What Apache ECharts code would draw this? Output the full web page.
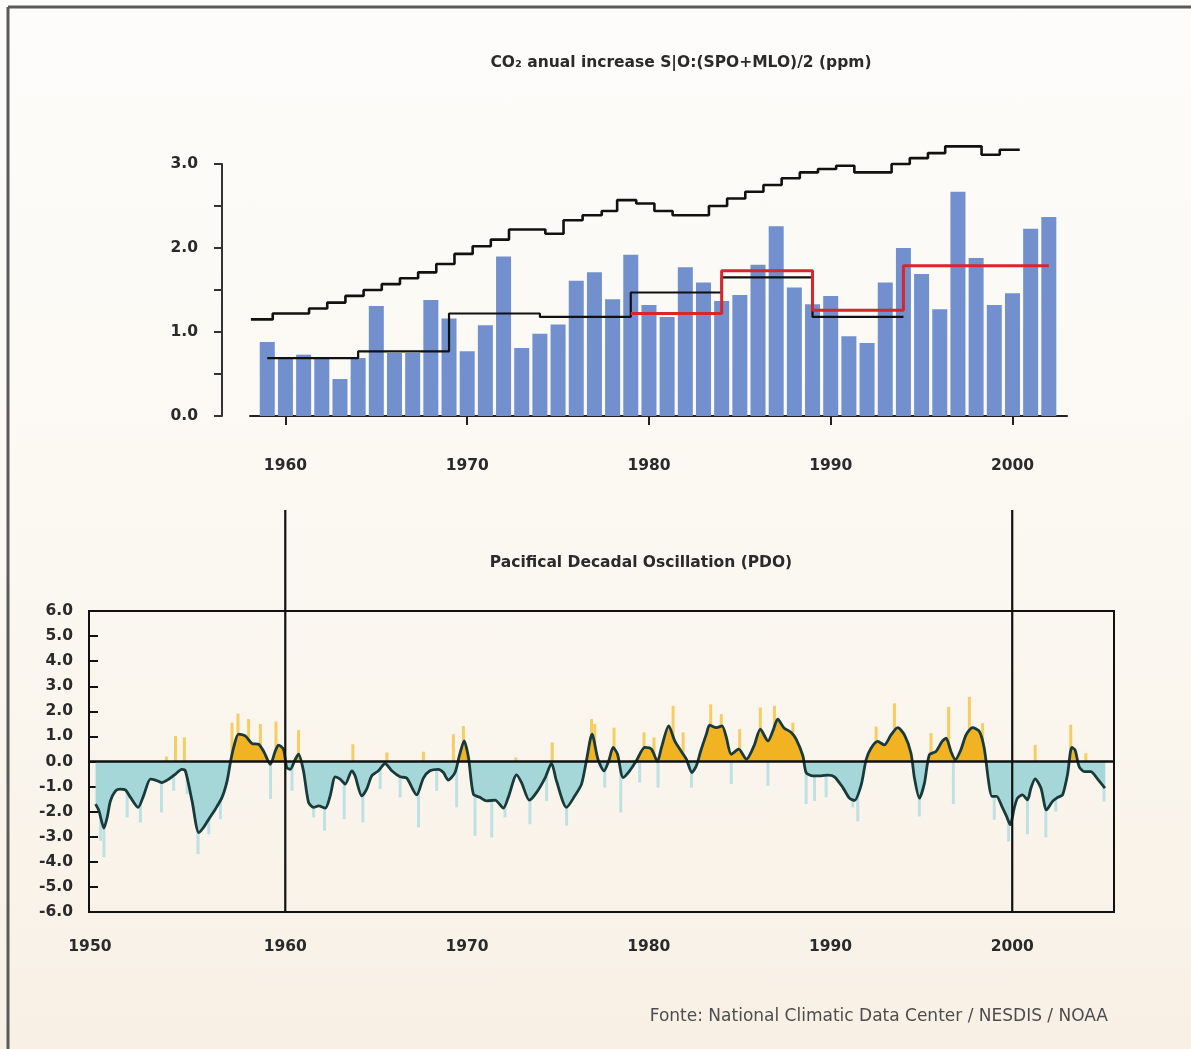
<!DOCTYPE html>
<html>
<head>
<meta charset="utf-8">
<script src="https://cdn.jsdelivr.net/npm/echarts@6/dist/echarts.min.js"></script>
<style>
  html, body { margin: 0; padding: 0; background: #ffffff; }
  #chart { width: 1191px; height: 1049px; background: linear-gradient(#fdfcfa 0%, #fbf8f1 55%, #f8f0e5 100%); }
</style>
</head>
<body>
<div id="chart"></div>
<script>
// CO2 annual increase (bars)
const co2Years = [1959, 1960, 1961, 1962, 1963, 1964, 1965, 1966, 1967, 1968, 1969, 1970, 1971, 1972, 1973,
  1974, 1975, 1976, 1977, 1978, 1979, 1980, 1981, 1982, 1983, 1984, 1985, 1986, 1987, 1988, 1989, 1990,
  1991, 1992, 1993, 1994, 1995, 1996, 1997, 1998, 1999, 2000, 2001, 2002];
const co2Values = [0.88, 0.70, 0.73, 0.69, 0.44, 0.69, 1.31, 0.75, 0.75, 1.38, 1.16, 0.77, 1.08, 1.90, 0.81,
  0.98, 1.09, 1.61, 1.71, 1.39, 1.92, 1.32, 1.18, 1.77, 1.59, 1.37, 1.44, 1.80, 2.26, 1.53, 1.33, 1.43,
  0.95, 0.87, 1.59, 2.00, 1.69, 1.27, 2.67, 1.88, 1.32, 1.46, 2.23, 2.37];

// upper black step line (value holds from each year to the next one)
const upperStepYears = [1958.1, 1959.3, 1961.3, 1962.3, 1963.3, 1964.3, 1965.3, 1966.3, 1967.3, 1968.3, 1969.3,
  1970.3, 1971.3, 1972.3, 1974.3, 1975.3, 1976.35, 1977.4, 1978.25, 1979.3, 1980.3, 1981.3, 1983.3, 1984.3,
  1985.3, 1986.3, 1987.3, 1988.3, 1989.3, 1990.3, 1991.3, 1993.35, 1994.35, 1995.35, 1996.3, 1998.3, 1999.3, 2000.4];
const upperStepValues = [1.15, 1.22, 1.28, 1.35, 1.43, 1.50, 1.57, 1.64, 1.71, 1.81, 1.93, 2.02, 2.10, 2.22,
  2.17, 2.33, 2.39, 2.44, 2.57, 2.53, 2.44, 2.39, 2.50, 2.59, 2.67, 2.75, 2.83, 2.90, 2.94, 2.98, 2.90, 3.00,
  3.07, 3.13, 3.21, 3.11, 3.17, 3.17];

// 5-year means
const lowerStepYears = [1959, 1964, 1969, 1974, 1979, 1984, 1989, 1994];
const lowerStepValues = [0.69, 0.77, 1.22, 1.18, 1.47, 1.65, 1.18, 1.18];
const redStepYears = [1979, 1984, 1989, 1994, 2002];
const redStepValues = [1.22, 1.73, 1.26, 1.79, 1.79];

const co2TickYears = [1960, 1970, 1980, 1990, 2000];

// PDO smoothed curve
const pdoYears = [1949.56, 1949.75, 1950.02, 1950.2, 1950.38, 1950.66, 1950.93, 1951.2, 1951.48, 1951.9, 1952.2,
  1952.58, 1952.86, 1953.2, 1953.6, 1953.96, 1954.3, 1954.5, 1954.87, 1955.24, 1955.5, 1955.79, 1956.15, 1956.52,
  1956.8, 1956.98, 1957.16, 1957.43, 1957.8, 1958.17, 1958.53, 1958.8, 1959.18, 1959.45, 1959.63, 1959.9, 1960.08,
  1960.27, 1960.55, 1960.73, 1961.0, 1961.28, 1961.56, 1961.83, 1962.2, 1962.47, 1962.75, 1963.02, 1963.3, 1963.66,
  1963.84, 1964.21, 1964.48, 1964.76, 1965.13, 1965.49, 1965.86, 1966.32, 1966.68, 1967.23, 1967.6, 1967.96, 1968.42,
  1968.7, 1968.97, 1969.34, 1969.58, 1969.84, 1970.08, 1970.35, 1970.71, 1971.08, 1971.54, 1972.0, 1972.27, 1972.73,
  1973.0, 1973.43, 1973.83, 1974.29, 1974.65, 1974.92, 1975.48, 1975.93, 1976.3, 1976.57, 1976.88, 1977.21, 1977.54,
  1977.8, 1978.04, 1978.28, 1978.59, 1978.95, 1979.32, 1979.78, 1980.15, 1980.48, 1980.7, 1981.1, 1981.43, 1981.83,
  1982.07, 1982.38, 1982.62, 1982.86, 1983.17, 1983.35, 1983.72, 1984.03, 1984.27, 1984.54, 1984.95, 1985.37, 1985.79,
  1986.14, 1986.56, 1986.83, 1987.1, 1987.43, 1987.84, 1988.11, 1988.48, 1988.66, 1989.03, 1989.48, 1989.85, 1990.22,
  1990.68, 1991.04, 1991.32, 1991.69, 1991.96, 1992.23, 1992.6, 1992.96, 1993.33, 1993.7, 1994.07, 1994.43, 1994.62,
  1994.89, 1995.17, 1995.44, 1995.8, 1996.14, 1996.36, 1996.63, 1996.87, 1997.17, 1997.46, 1997.82, 1998.19, 1998.46,
  1998.7, 1998.88, 1999.14, 1999.43, 1999.69, 1999.89, 2000.11, 2000.29, 2000.56, 2000.84, 2001.03, 2001.26, 2001.58,
  2001.89, 2002.22, 2002.5, 2002.77, 2003.04, 2003.28, 2003.46, 2003.68, 2003.96, 2004.32, 2004.69, 2005.1];
const pdoSmooth = [-1.70, -1.97, -2.66, -2.23, -1.57, -1.17, -1.10, -1.13, -1.43, -1.83, -1.37,
  -0.70, -0.74, -0.84, -0.70, -0.50, -0.31, -0.37, -1.57, -2.83, -2.63, -2.30, -1.90, -1.43,
  -0.77, -0.04, 0.56, 1.09, 1.02, 0.72, 0.69, 0.42, -0.11, 0.42, 0.65, 0.49, -0.24,
  -0.31, 0.09, 0.29, -0.37, -1.63, -1.83, -1.77, -1.86, -1.37, -0.61, -0.70, -0.90, -0.37,
  -0.57, -1.37, -1.10, -0.57, -0.37, -0.08, -0.37, -0.61, -0.66, -1.33, -0.66, -0.37, -0.31,
  -0.44, -0.74, -0.44, 0.23, 0.82, 0.16, -1.30, -1.43, -1.57, -1.54, -1.86, -1.43, -0.53,
  -0.84, -1.54, -1.23, -0.66, -0.08, -0.77, -1.83, -1.37, -0.90, 0.03, 1.09, 0.08, -0.37,
  0.03, 0.56, 0.29, -0.64, -0.37, 0.03, 0.56, 0.49, 0.00, 0.56, 1.42, 0.82, 0.36,
  0.09, -0.44, -0.17, 0.42, 1.09, 1.45, 1.35, 1.42, 0.96, 0.29, 0.49, 0.09, 0.62,
  1.29, 0.82, 1.22, 1.69, 1.35, 1.16, 0.89, 0.23, -0.44, -0.57, -0.57, -0.54, -0.61,
  -1.04, -1.46, -1.55, -0.93, 0.07, 0.53, 0.80, 0.66, 1.06, 1.35, 1.06, 0.33, -0.66,
  -1.46, -0.86, 0.27, 0.40, 0.80, 0.93, 0.40, 0.07, 0.46, 1.06, 1.35, 1.20, 0.53,
  -0.80, -1.39, -1.39, -1.79, -2.19, -2.52, -1.86, -1.46, -1.33, -1.53, -1.06, -0.69, -1.06,
  -1.93, -1.59, -1.43, -1.33, -0.53, 0.56, 0.46, -0.20, -0.40, -0.40, -0.69, -1.06];

// PDO monthly values that stick out of the smoothed area
const spikeYears = [1953.46, 1953.96, 1954.45, 1957.07, 1957.4, 1957.98, 1958.63, 1959.49, 1960.73,
  1949.84, 1950.02, 1951.3, 1952.03, 1953.19, 1953.86, 1954.6, 1955.2, 1955.79, 1956.43, 1959.19, 1960.37, 1961.56, 1962.16,
  1963.72, 1965.59, 1967.6, 1969.25, 1969.8, 1972.69, 1974.69, 1976.85,
  1963.24, 1964.27, 1965.22, 1966.32, 1967.33, 1968.33, 1969.43, 1970.44, 1971.36, 1972.09, 1973.46, 1974.38, 1975.48,
  1977.03, 1978.09, 1979.74, 1980.29, 1981.34, 1981.89, 1983.41, 1983.99, 1985.0, 1986.14, 1986.92, 1987.93,
  1977.58, 1978.46, 1979.5, 1980.51, 1982.35, 1984.54, 1986.56, 1988.66, 1989.12, 1989.76, 1991.23,
  1992.51, 1993.52, 1995.53, 1996.5, 1997.64, 1998.37, 2001.26, 2003.22, 2004.05,
  1991.5, 1994.89, 1996.76, 1999.01, 1999.8, 2000.84, 2001.85, 2002.4, 2005.05];
const spikeValues = [0.20, 1.02, 0.96, 1.55, 1.91, 1.69, 1.49, 1.59, 1.25,
  -3.16, -3.82, -2.23, -2.43, -2.03, -1.17, -1.30, -3.69, -2.90, -2.30, -1.50, -1.17, -2.23, -2.76,
  0.69, 0.36, 0.39, 1.09, 1.42, 0.16, 0.76, 1.69,
  -2.30, -2.43, -1.10, -1.43, -2.63, -1.17, -1.83, -2.96, -3.03, -2.23, -2.50, -1.57, -2.56,
  1.50, 1.35, 1.16, 0.96, 2.22, 1.16, 2.28, 1.89, 1.29, 2.15, 2.22, 1.55,
  -1.04, -2.03, -0.84, -1.04, -1.04, -0.90, -0.97, -1.70, -1.57, -1.43, -1.83,
  1.39, 2.32, 1.13, 2.18, 2.58, 1.53, 0.66, 1.46, 0.33,
  -2.39, -2.19, -1.70, -2.32, -3.19, -2.90, -3.03, -1.99, -1.60];

const pdoLabelYears = [1950, 1960, 1970, 1980, 1990, 2000];
const markerYears = [1960, 2000];

const pdoMin = 1949.2, pdoMax = 2005.6;
const font = 'DejaVu Sans';
const textDark = '#2a2a2a';
const warm = '#f1b321', cool = '#a6d7d8';

const pairs = (xs, ys) => xs.map((x, i) => [x, ys[i]]);
const axisText = { fontFamily: font, fontSize: 15.5, fontWeight: 'bold', color: textDark };

const chart = echarts.init(document.getElementById('chart'), null, { renderer: 'canvas' });

const markerSeries = markerYears.map(y => ({
  type: 'line',
  xAxisIndex: 2,
  yAxisIndex: 2,
  data: [[y, 0], [y, 1]],
  showSymbol: false,
  silent: true,
  z: 10,
  lineStyle: { color: '#111', width: 2.2 }
}));

chart.setOption({
  backgroundColor: 'transparent',
  animation: false,
  textStyle: { fontFamily: font },
  title: [
    {
      text: 'CO₂ anual increase S|O:(SPO+MLO)/2 (ppm)',
      left: 676, top: 50, textAlign: 'center',
      textStyle: { fontFamily: font, fontSize: 15.5, fontWeight: 'bold', color: textDark }
    },
    {
      text: 'Pacifical Decadal Oscillation (PDO)',
      left: 636, top: 550, textAlign: 'center',
      textStyle: { fontFamily: font, fontSize: 15.5, fontWeight: 'bold', color: textDark }
    },
    {
      text: 'Fonte: National Climatic Data Center / NESDIS / NOAA',
      right: 78, top: 1003,
      textStyle: { fontFamily: font, fontSize: 17, fontWeight: 'normal', color: '#4d4d4d' }
    }
  ],
  graphic: [
    { type: 'line', shape: { x1: 8, y1: 7, x2: 1191, y2: 7 }, style: { stroke: '#5a5a5a', lineWidth: 3 } },
    { type: 'line', shape: { x1: 8, y1: 7, x2: 8, y2: 1049 }, style: { stroke: '#5a5a5a', lineWidth: 3 } }
  ],
  grid: [
    { left: 250, right: 124, top: 164, bottom: 633 },
    { left: 89, right: 77, top: 611, bottom: 137, show: true, borderColor: '#111', borderWidth: 2, backgroundColor: 'transparent' },
    { left: 89, right: 77, top: 510, bottom: 137 }
  ],
  xAxis: [
    {
      gridIndex: 0, type: 'value', min: 1958.05, max: 2003,
      axisLine: { show: true, lineStyle: { color: '#222', width: 2 } },
      axisTick: { show: true, customValues: co2TickYears, length: 9, lineStyle: { color: '#222', width: 2 } },
      axisLabel: Object.assign({ customValues: co2TickYears, formatter: v => String(v), margin: 42 }, axisText),
      splitLine: { show: false }
    },
    {
      gridIndex: 1, type: 'value', min: pdoMin, max: pdoMax,
      axisLine: { show: false },
      axisTick: { show: false },
      axisLabel: Object.assign({
        // the first label sits on the left edge of the box, as in the original
        customValues: pdoLabelYears.map((y, i) => (i === 0 ? pdoMin + 0.05 : y)),
        formatter: v => String(Math.round(v / 10) * 10),
        margin: 27
      }, axisText),
      splitLine: { show: false }
    },
    { gridIndex: 2, type: 'value', min: pdoMin, max: pdoMax, show: false }
  ],
  yAxis: [
    {
      gridIndex: 0, type: 'value', min: 0, max: 3, interval: 0.5, offset: 28,
      axisLine: { show: true, lineStyle: { color: '#333', width: 2 } },
      axisTick: { show: true, length: 8, lineStyle: { color: '#333', width: 2 } },
      axisLabel: Object.assign({ formatter: v => (v % 1 === 0 ? v.toFixed(1) : ''), margin: 24 }, axisText),
      splitLine: { show: false }
    },
    {
      gridIndex: 1, type: 'value', min: -6, max: 6, interval: 1,
      axisLine: { show: true, lineStyle: { color: '#111', width: 2 } },
      axisTick: { show: true, inside: true, length: 9, lineStyle: { color: '#111', width: 2 } },
      axisLabel: Object.assign({ formatter: v => v.toFixed(1), margin: 16 }, axisText),
      splitLine: { show: false }
    },
    { gridIndex: 2, type: 'value', min: 0, max: 1, show: false }
  ],
  series: [
    {
      type: 'bar', xAxisIndex: 0, yAxisIndex: 0,
      data: pairs(co2Years, co2Values),
      barWidth: 15,
      itemStyle: { color: '#7190cd' }
    },
    {
      type: 'line', xAxisIndex: 0, yAxisIndex: 0, step: 'end', showSymbol: false, clip: false,
      data: pairs(upperStepYears, upperStepValues),
      lineStyle: { color: '#111', width: 2.6 }
    },
    {
      type: 'line', xAxisIndex: 0, yAxisIndex: 0, step: 'end', showSymbol: false,
      data: pairs(lowerStepYears, lowerStepValues),
      lineStyle: { color: '#111', width: 2.2 }
    },
    {
      type: 'line', xAxisIndex: 0, yAxisIndex: 0, step: 'end', showSymbol: false,
      data: pairs(redStepYears, redStepValues),
      lineStyle: { color: '#d8262b', width: 3 }
    },
    {
      type: 'bar', xAxisIndex: 1, yAxisIndex: 1,
      data: pairs(spikeYears, spikeValues),
      barWidth: 3,
      z: 1,
      itemStyle: {
        color: p => (p.value[1] >= 0 ? '#f6cd62' : '#bfe1e3')
      }
    },
    {
      id: 'pdoArea',
      type: 'line', xAxisIndex: 1, yAxisIndex: 1, showSymbol: false, smooth: 0.25,
      data: pairs(pdoYears, pdoSmooth),
      lineStyle: { width: 0 },
      areaStyle: { opacity: 1, origin: 0, color: warm },
      z: 2
    },
    {
      type: 'line', xAxisIndex: 1, yAxisIndex: 1, showSymbol: false, smooth: 0.25,
      data: pairs(pdoYears, pdoSmooth),
      lineStyle: { color: '#183a3a', width: 2.8 },
      z: 3,
      markLine: {
        silent: true, symbol: 'none',
        label: { show: false },
        lineStyle: { color: '#111', width: 2.5, type: 'solid' },
        data: [{ yAxis: 0 }]
      }
    },
    ...markerSeries
  ]
});

// split the PDO area colour at zero, using the axis scale for the positions
const pdoTop = chart.convertToPixel({ xAxisIndex: 1, yAxisIndex: 1 }, [pdoMin, 6])[1];
const pdoBottom = chart.convertToPixel({ xAxisIndex: 1, yAxisIndex: 1 }, [pdoMin, -6])[1];
const pdoZero = chart.convertToPixel({ xAxisIndex: 1, yAxisIndex: 1 }, [pdoMin, 0])[1];
const zeroAt = (pdoZero - pdoTop) / (pdoBottom - pdoTop);
chart.setOption({
  series: [{
    id: 'pdoArea',
    areaStyle: {
      color: new echarts.graphic.LinearGradient(0, pdoTop, 0, pdoBottom, [
        { offset: 0, color: warm },
        { offset: zeroAt, color: warm },
        { offset: zeroAt, color: cool },
        { offset: 1, color: cool }
      ], true)
    }
  }]
});
</script>
</body>
</html>
